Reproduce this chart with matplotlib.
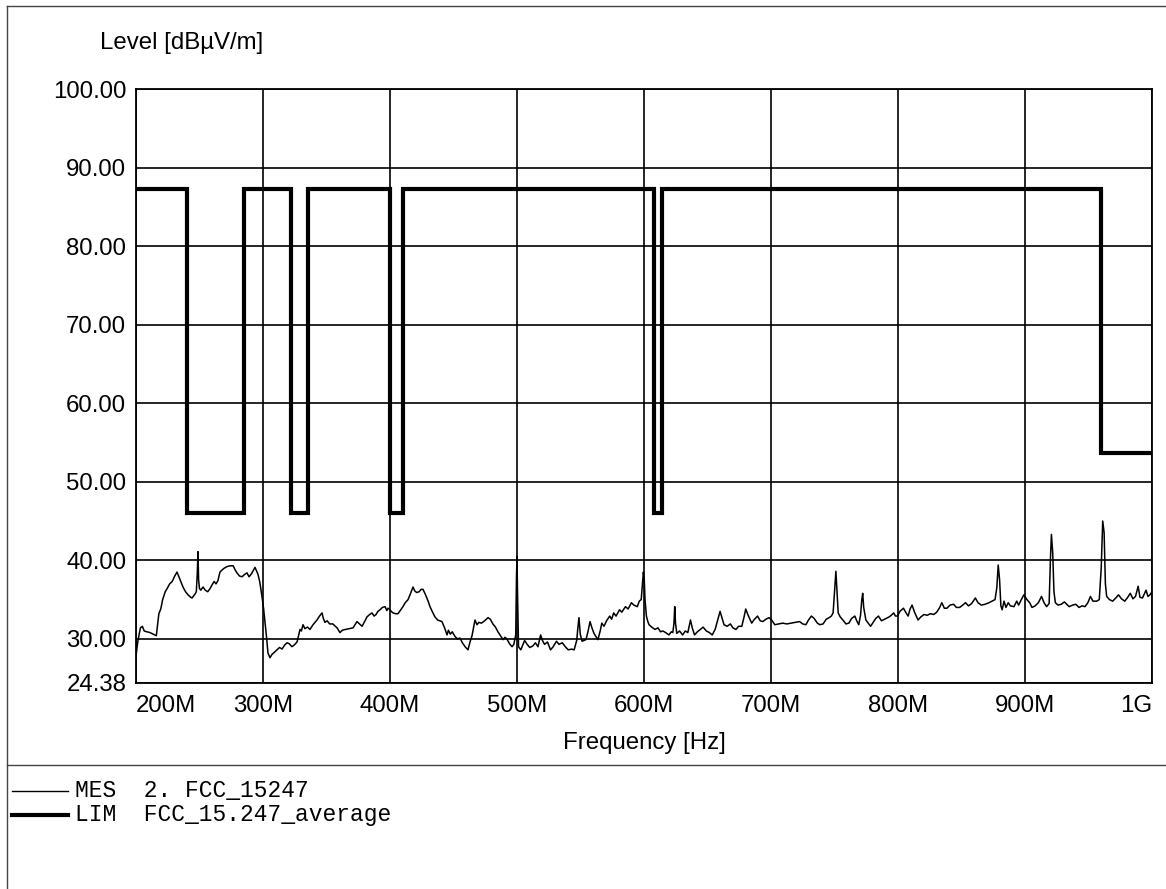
import matplotlib
matplotlib.use("Agg")
import matplotlib.pyplot as plt
from matplotlib.lines import Line2D

# ---- limit line FCC 15.247 average (step breakpoints, MHz / dBuV/m) ----
lim_edges_mhz = [200, 240, 285, 322, 335.4, 399.9, 410, 608, 614, 960, 1000]
lim_levels = [87.3, 46.0, 87.3, 46.0, 87.3, 46.0, 87.3, 46.0, 87.3, 53.6, 53.6]

# ---- measured trace (MHz / dBuV/m) ----
mes_freq_mhz = [
    200.0, 200.8, 201.6, 202.5, 203.5, 205.0, 206.5, 208.5, 211.0, 213.5,
    216.0, 217.0, 218.0, 219.5, 221.0, 223.0, 224.5, 226.5, 228.5, 230.5,
    232.3, 234.0, 235.5, 237.0, 239.0, 241.0, 243.0, 244.1, 245.5, 246.5,
    247.5, 248.3, 248.8, 249.3, 250.0, 251.0, 252.8, 254.5, 256.5, 258.3,
    260.0, 261.5, 263.0, 264.5, 266.1, 268.0, 269.5, 271.7, 274.0, 276.5,
    278.0, 279.5, 281.5, 283.5, 285.5, 287.4, 289.0, 291.0, 293.7, 295.0,
    296.1, 297.5, 299.2, 300.5, 301.6, 302.8, 303.9, 305.5, 307.0, 309.0,
    311.0, 313.0, 315.0, 317.0, 318.9, 320.5, 322.8, 324.5, 326.8, 328.0,
    329.1, 330.2, 331.5, 333.0, 335.0, 337.0, 339.4, 341.0, 342.5, 344.5,
    346.5, 347.5, 348.8, 350.5, 352.5, 355.0, 358.3, 360.6, 362.5, 365.0,
    368.0, 370.9, 372.5, 374.0, 376.0, 378.0, 380.0, 381.9, 384.0, 385.8,
    387.5, 389.0, 390.5, 392.1, 394.0, 396.1, 397.5, 398.4, 400.0, 401.0,
    402.4, 404.5, 406.3, 408.0, 410.2, 412.0, 414.2, 416.0, 418.1, 419.5,
    421.0, 423.0, 424.5, 426.0, 428.0, 430.0, 431.5, 433.5, 435.4, 437.5,
    440.9, 443.0, 444.9, 446.0, 447.5, 449.0, 451.2, 453.0, 455.1, 457.0,
    459.1, 461.4, 463.0, 464.6, 466.0, 466.9, 468.5, 470.0, 472.0, 474.5,
    477.2, 479.0, 481.0, 483.0, 485.0, 487.0, 489.0, 490.5, 492.0, 494.0,
    496.1, 497.5, 499.0, 499.6, 500.0, 500.4, 501.2, 503.0, 504.5, 506.0,
    508.0, 510.0, 512.5, 514.5, 516.5, 518.6, 520.0, 521.7, 524.0, 526.4,
    528.5, 531.1, 533.0, 535.7, 538.0, 540.4, 543.0, 545.0, 547.0, 548.0,
    548.8, 549.8, 551.2, 554.3, 556.0, 557.5, 559.0, 560.6, 563.7, 565.5,
    566.8, 568.5, 570.5, 573.0, 574.5, 576.1, 578.0, 580.7, 582.5, 585.4,
    587.5, 590.1, 592.0, 594.7, 596.3, 597.8, 598.8, 599.5, 600.2, 600.8,
    601.9, 603.0, 604.0, 606.0, 608.7, 611.0, 613.0, 614.9, 617.0, 619.6,
    621.5, 622.7, 623.6, 624.2, 624.8, 625.8, 628.0, 630.4, 632.5, 634.5,
    636.6, 638.0, 639.8, 642.0, 644.4, 646.5, 649.1, 651.5, 653.7, 656.0,
    658.0, 659.9, 661.5, 663.0, 665.5, 668.0, 670.0, 672.4, 674.5, 677.0,
    678.8, 680.1, 682.0, 684.8, 686.5, 689.4, 691.5, 693.5, 696.0, 698.4,
    700.5, 703.0, 706.0, 709.2, 712.5, 716.0, 719.0, 722.5, 725.0, 727.5,
    729.5, 731.8, 734.0, 736.5, 738.5, 741.0, 743.5, 745.8, 747.5, 748.9,
    750.0, 751.1, 752.0, 752.9, 754.5, 756.6, 759.0, 761.3, 763.5, 766.0,
    767.5, 769.1, 770.5, 771.5, 772.2, 773.0, 774.7, 776.5, 778.4, 780.5,
    782.5, 784.6, 787.0, 789.5, 791.9, 794.0, 796.6, 798.0, 799.7, 801.5,
    804.3, 806.0, 808.0, 809.5, 811.1, 813.0, 815.8, 818.0, 820.5, 823.0,
    825.5, 828.2, 830.5, 832.5, 834.5, 836.5, 838.5, 841.0, 843.8, 846.0,
    848.5, 851.0, 853.1, 855.5, 858.0, 860.9, 863.0, 865.5, 868.5, 871.7,
    874.0, 876.4, 877.8, 878.9, 880.0, 881.0, 882.0, 883.5, 885.0, 886.8,
    888.5, 891.3, 893.5, 895.0, 896.8, 899.1, 901.5, 903.7, 905.5, 908.0,
    910.5, 913.0, 915.0, 917.0, 919.0, 920.0, 920.8, 921.8, 922.8, 923.9,
    926.0, 928.5, 931.0, 934.8, 937.5, 940.0, 942.5, 945.0, 947.2, 949.5,
    951.5, 953.5, 956.5, 958.5, 960.0, 961.2, 962.3, 963.3, 964.3, 966.5,
    969.0, 971.5, 973.6, 976.0, 978.5, 980.5, 982.9, 985.0, 987.0, 989.1,
    990.5, 992.5, 995.3, 996.8, 998.4, 1000.0,
]
mes_level = [
    27.8, 28.9, 29.8, 30.6, 31.4, 31.6, 31.0, 30.9, 30.8, 30.6,
    30.4, 31.8, 33.2, 33.8, 35.0, 36.0, 36.4, 37.0, 37.3, 38.0,
    38.5, 37.8, 37.2, 36.6, 36.0, 35.6, 35.3, 35.2, 35.5, 35.7,
    36.0, 38.5, 41.1, 37.5, 36.4, 36.2, 36.6, 36.2, 36.0, 36.4,
    36.9, 37.3, 37.0, 37.4, 38.5, 38.8, 39.0, 39.2, 39.3, 39.3,
    38.8, 38.4, 38.0, 37.9, 38.2, 38.4, 37.9, 38.3, 39.1, 38.6,
    38.2, 37.2, 35.4, 33.8, 32.1, 30.2, 28.2, 27.6, 28.0, 28.3,
    28.6, 28.9, 28.7, 29.2, 29.5, 29.4, 29.0, 29.2, 29.6, 30.4,
    31.2, 31.0, 31.8, 31.3, 31.5, 31.2, 31.8, 32.1, 32.4, 32.9,
    33.3, 32.6, 32.1, 32.3, 31.9, 31.9, 31.4, 30.8, 31.1, 31.2,
    31.3, 31.4, 31.8, 32.2, 31.9, 31.6, 32.2, 32.8, 33.1, 33.3,
    32.9, 33.1, 33.5, 33.7, 34.0, 34.1, 33.6, 33.9, 33.7, 33.5,
    33.3, 33.2, 33.2, 33.6, 34.1, 34.6, 35.0, 35.7, 36.6, 36.1,
    35.9, 36.0, 36.3, 36.3, 35.6, 34.8, 34.1, 33.4, 32.8, 32.4,
    32.2, 31.4, 30.5, 31.1, 30.6, 30.9, 30.3, 30.0, 30.1, 29.5,
    29.0, 28.6, 29.6, 30.4, 31.6, 32.4, 31.8, 32.1, 32.0, 32.3,
    32.7, 32.5, 31.9, 31.5, 30.9, 30.4, 29.9, 30.2, 30.0, 29.4,
    29.0, 29.3, 30.5, 38.0, 40.5, 36.0, 29.0, 28.6, 29.2, 29.8,
    29.3, 28.9, 29.1, 29.5, 29.0, 30.5, 29.8, 29.3, 29.6, 28.6,
    29.0, 29.7, 29.3, 29.5, 29.0, 28.6, 28.7, 28.6, 29.8, 31.5,
    32.7, 30.6, 29.7, 29.9, 31.0, 32.2, 31.4, 30.7, 29.9, 31.0,
    32.0, 31.6, 32.3, 32.9, 32.5, 33.3, 32.9, 33.7, 33.4, 34.1,
    33.8, 34.6, 34.3, 34.1, 34.8, 35.0, 37.0, 38.5, 37.6, 35.0,
    32.9, 32.2, 31.8, 31.5, 31.2, 31.4, 30.9, 31.0, 30.8, 30.5,
    30.9, 30.8, 32.0, 34.1, 32.0, 30.7, 31.0, 30.5, 31.0, 30.8,
    32.4, 31.4, 30.5, 30.9, 31.2, 31.5, 31.0, 30.8, 30.5, 31.2,
    32.4, 33.5, 32.6, 31.8, 31.6, 31.9, 31.4, 31.2, 31.6, 31.6,
    32.8, 33.8, 33.0, 32.0, 32.4, 32.9, 32.3, 32.2, 32.5, 32.7,
    32.4, 31.8, 31.9, 32.0, 31.9, 32.0, 32.1, 32.2, 31.9, 31.8,
    32.4, 32.9, 32.6, 32.0, 31.8, 31.9, 32.5, 32.7, 32.9, 33.3,
    36.0, 38.6, 36.0, 33.3, 32.8, 32.4, 31.9, 32.0, 32.6, 32.9,
    32.3, 31.8, 33.0, 35.0, 35.8, 34.0, 32.4, 32.0, 31.6, 32.1,
    32.6, 32.9, 32.3, 32.5, 32.7, 32.9, 33.3, 32.9, 32.9, 33.5,
    33.9, 33.4, 32.9, 33.8, 34.3, 33.4, 32.4, 32.8, 33.1, 33.0,
    33.2, 33.1, 33.4, 33.9, 34.6, 33.9, 33.9, 34.3, 34.4, 34.0,
    34.0, 34.3, 34.6, 34.2, 34.5, 35.2, 34.6, 34.3, 34.4, 34.6,
    34.8, 35.0, 36.5, 39.4, 37.5, 34.2, 33.7, 34.8, 34.0, 34.6,
    34.2, 34.1, 34.8, 34.3, 34.9, 35.6, 35.0, 34.6, 34.0, 34.2,
    34.6, 35.4, 34.6, 34.1, 34.5, 40.0, 43.3, 41.0, 36.0, 34.6,
    34.3, 34.4, 34.7, 34.1, 34.3, 34.4, 34.0, 34.2, 34.1, 34.6,
    35.4, 34.8, 34.8, 35.0, 39.0, 45.0, 43.5, 37.0, 35.4, 35.0,
    34.8, 35.2, 35.6, 35.1, 34.8, 35.2, 35.8, 35.1, 35.4, 36.7,
    35.3, 35.2, 36.2, 35.4, 35.6, 36.0,
]

x_ticks_mhz = [200, 300, 400, 500, 600, 700, 800, 900, 1000]
x_tick_labels = ["200M", "300M", "400M", "500M", "600M", "700M", "800M", "900M", "1G"]
y_ticks = [24.38, 30, 40, 50, 60, 70, 80, 90, 100]

legend_entries = [("MES  2. FCC_15247", 1.0), ("LIM  FCC_15.247_average", 3.0)]

W, H = 1166, 889
plt.rcParams["font.family"] = ["Liberation Sans", "DejaVu Sans"]
fig = plt.figure(figsize=(W / 100, H / 100), dpi=100)
fig.patch.set_facecolor("white")


def fx(px):
    return px / W


def fy(py):
    return 1 - py / H


ax = fig.add_axes([fx(136), fy(683), fx(1152) - fx(136), fy(89) - fy(683)])
ax.set_xlim(200, 1000)
ax.set_ylim(24.38, 100)

ax.step(lim_edges_mhz, lim_levels, where="post", color="black", lw=3.0,
        solid_joinstyle="miter", zorder=3)
ax.plot(mes_freq_mhz, mes_level, color="black", lw=1.1, zorder=4)

ax.set_xticks(x_ticks_mhz)
ax.set_xticklabels(x_tick_labels)
ax.set_yticks(y_ticks)
ax.set_yticklabels([f"{v:.2f}" for v in y_ticks])
ax.tick_params(axis="both", length=0, labelsize=17.3, colors="black")
ax.tick_params(axis="y", pad=7)
ax.tick_params(axis="x", pad=9)
xl = ax.get_xticklabels()
xl[0].set_horizontalalignment("left")
xl[-1].set_horizontalalignment("right")

ax.grid(True, color="black", lw=1.2)
ax.set_axisbelow(True)
for s in ax.spines.values():
    s.set_linewidth(1.3)
    s.set_color("black")

fig.text(fx(100), fy(43), "Level [dB\u00b5V/m]", fontsize=17.3, ha="left", va="center")
fig.text(fx(644), fy(743), "Frequency [Hz]", fontsize=17.3, ha="center", va="center")

# page frame and separator above the legend
frame_kw = dict(color="#444444", lw=1.0, transform=fig.transFigure)
fig.add_artist(Line2D([fx(7), fx(1166)], [fy(6), fy(6)], **frame_kw))
fig.add_artist(Line2D([fx(7), fx(7)], [fy(6), fy(889)], **frame_kw))
fig.add_artist(Line2D([fx(7), fx(1166)], [fy(765), fy(765)], **frame_kw))

# legend rows
for i, (label, lw) in enumerate(legend_entries):
    yrow = 791 + 24 * i
    fig.add_artist(Line2D([fx(12), fx(68)], [fy(yrow), fy(yrow)], color="black",
                          lw=lw, transform=fig.transFigure))
    fig.text(fx(75), fy(yrow), label, fontsize=16.5, ha="left", va="center",
             family=["Liberation Mono", "DejaVu Sans Mono"])

fig.savefig("out.png", dpi=100, facecolor="white")
